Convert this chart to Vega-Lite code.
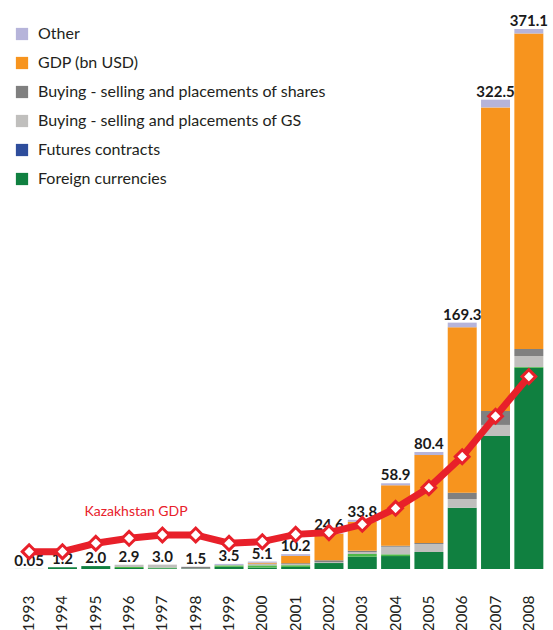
{
  "$schema": "https://vega.github.io/schema/vega-lite/v6.json",
  "autosize": {"type": "none"},
  "width": 532,
  "height": 553,
  "padding": {"left": 13, "top": 16, "right": 8, "bottom": 61},
  "config": {"view": {"stroke": null}, "font": "Lato"},
  "datasets": {
    "parts": [
      {"year": "1993", "category": "Foreign currencies", "value": 0.05},
      {"year": "1994", "category": "Foreign currencies", "value": 1.2},
      {"year": "1995", "category": "Foreign currencies", "value": 2.0},
      {"year": "1996", "category": "Foreign currencies", "value": 0.7},
      {"year": "1996", "category": "Swaps", "value": 0.6},
      {"year": "1996", "category": "Buying - selling and placements of GS", "value": 1.6},
      {"year": "1997", "category": "Foreign currencies", "value": 0.5},
      {"year": "1997", "category": "Swaps", "value": 0.5},
      {"year": "1997", "category": "Buying - selling and placements of GS", "value": 2.0},
      {"year": "1998", "category": "Foreign currencies", "value": 0.3},
      {"year": "1998", "category": "Buying - selling and placements of shares", "value": 1.2},
      {"year": "1999", "category": "Foreign currencies", "value": 1.5},
      {"year": "1999", "category": "Swaps", "value": 1.0},
      {"year": "1999", "category": "Buying - selling and placements of GS", "value": 0.3},
      {"year": "1999", "category": "Other", "value": 0.7},
      {"year": "2000", "category": "Foreign currencies", "value": 1.0},
      {"year": "2000", "category": "Swaps", "value": 1.5},
      {"year": "2000", "category": "Buying - selling and placements of GS", "value": 0.8},
      {"year": "2000", "category": "Buying - selling and placements of shares", "value": 0.4},
      {"year": "2000", "category": "GDP (bn USD)", "value": 0.6},
      {"year": "2000", "category": "Other", "value": 0.8},
      {"year": "2001", "category": "Foreign currencies", "value": 1.4},
      {"year": "2001", "category": "Swaps", "value": 1.2},
      {"year": "2001", "category": "Buying - selling and placements of GS", "value": 0.8},
      {"year": "2001", "category": "Buying - selling and placements of shares", "value": 0.6},
      {"year": "2001", "category": "GDP (bn USD)", "value": 5.0},
      {"year": "2001", "category": "Other", "value": 1.2},
      {"year": "2002", "category": "Foreign currencies", "value": 4.1},
      {"year": "2002", "category": "Buying - selling and placements of GS", "value": 0.6},
      {"year": "2002", "category": "Buying - selling and placements of shares", "value": 1.3},
      {"year": "2002", "category": "GDP (bn USD)", "value": 18.3},
      {"year": "2002", "category": "Other", "value": 0.3},
      {"year": "2003", "category": "Foreign currencies", "value": 8.5},
      {"year": "2003", "category": "Swaps", "value": 1.8},
      {"year": "2003", "category": "Buying - selling and placements of GS", "value": 1.4},
      {"year": "2003", "category": "Buying - selling and placements of shares", "value": 0.9},
      {"year": "2003", "category": "GDP (bn USD)", "value": 19.8},
      {"year": "2003", "category": "Other", "value": 1.4},
      {"year": "2004", "category": "Foreign currencies", "value": 8.9},
      {"year": "2004", "category": "Swaps", "value": 1.2},
      {"year": "2004", "category": "Buying - selling and placements of GS", "value": 5.2},
      {"year": "2004", "category": "Buying - selling and placements of shares", "value": 0.7},
      {"year": "2004", "category": "GDP (bn USD)", "value": 41.5},
      {"year": "2004", "category": "Other", "value": 1.4},
      {"year": "2005", "category": "Foreign currencies", "value": 11.7},
      {"year": "2005", "category": "Buying - selling and placements of GS", "value": 5.5},
      {"year": "2005", "category": "Buying - selling and placements of shares", "value": 0.7},
      {"year": "2005", "category": "GDP (bn USD)", "value": 60.4},
      {"year": "2005", "category": "Other", "value": 2.1},
      {"year": "2006", "category": "Foreign currencies", "value": 42.1},
      {"year": "2006", "category": "Buying - selling and placements of GS", "value": 6.0},
      {"year": "2006", "category": "Buying - selling and placements of shares", "value": 4.3},
      {"year": "2006", "category": "GDP (bn USD)", "value": 113.7},
      {"year": "2006", "category": "Other", "value": 3.2},
      {"year": "2007", "category": "Foreign currencies", "value": 91.4},
      {"year": "2007", "category": "Buying - selling and placements of GS", "value": 7.6},
      {"year": "2007", "category": "Buying - selling and placements of shares", "value": 9.6},
      {"year": "2007", "category": "GDP (bn USD)", "value": 208.6},
      {"year": "2007", "category": "Other", "value": 5.3},
      {"year": "2008", "category": "Foreign currencies", "value": 138.3},
      {"year": "2008", "category": "Swaps", "value": 0.5},
      {"year": "2008", "category": "Buying - selling and placements of GS", "value": 7.6},
      {"year": "2008", "category": "Buying - selling and placements of shares", "value": 4.8},
      {"year": "2008", "category": "GDP (bn USD)", "value": 216.7},
      {"year": "2008", "category": "Other", "value": 3.2}
    ],
    "totals": [
      {"year": "1993", "total": 0.05, "label": "0.05"},
      {"year": "1994", "total": 1.2, "label": "1.2"},
      {"year": "1995", "total": 2.0, "label": "2.0"},
      {"year": "1996", "total": 2.9, "label": "2.9"},
      {"year": "1997", "total": 3.0, "label": "3.0"},
      {"year": "1998", "total": 1.5, "label": "1.5"},
      {"year": "1999", "total": 3.5, "label": "3.5"},
      {"year": "2000", "total": 5.1, "label": "5.1"},
      {"year": "2001", "total": 10.2, "label": "10.2"},
      {"year": "2002", "total": 24.6, "label": "24.6"},
      {"year": "2003", "total": 33.8, "label": "33.8"},
      {"year": "2004", "total": 58.9, "label": "58.9"},
      {"year": "2005", "total": 80.4, "label": "80.4"},
      {"year": "2006", "total": 169.3, "label": "169.3"},
      {"year": "2007", "total": 322.5, "label": "322.5"},
      {"year": "2008", "total": 371.1, "label": "371.1"}
    ],
    "gdp": [
      {"year": "1993", "gdp": 11.9},
      {"year": "1994", "gdp": 11.9},
      {"year": "1995", "gdp": 17.7},
      {"year": "1996", "gdp": 21.1},
      {"year": "1997", "gdp": 23.4},
      {"year": "1998", "gdp": 23.4},
      {"year": "1999", "gdp": 17.7},
      {"year": "2000", "gdp": 18.8},
      {"year": "2001", "gdp": 23.8},
      {"year": "2002", "gdp": 25.0},
      {"year": "2003", "gdp": 30.7},
      {"year": "2004", "gdp": 41.7},
      {"year": "2005", "gdp": 55.9},
      {"year": "2006", "gdp": 77.2},
      {"year": "2007", "gdp": 105.0},
      {"year": "2008", "gdp": 132.2}
    ],
    "note": [
      {"year": "1996", "gdp": 39.5, "label": "Kazakhstan GDP"}
    ]
  },
  "encoding": {
    "x": {
      "field": "year", "type": "ordinal",
      "scale": {"paddingInner": 0.13, "paddingOuter": 0.05},
      "axis": {"title": null, "domain": false, "ticks": false, "labelAngle": -90, "labelAlign": "right", "labelBaseline": "middle", "labelFontSize": 15.5, "labelColor": "#231f20", "labelPadding": 26, "labelFont": "Lato"}
    }
  },
  "layer": [
    {
      "data": {"name": "parts"},
      "transform": [
        {"calculate": "indexof(['Foreign currencies','Swaps','Futures contracts','Buying - selling and placements of GS','Buying - selling and placements of shares','GDP (bn USD)','Other'], datum.category)", "as": "rank"}
      ],
      "mark": {"type": "bar"},
      "encoding": {
        "y": {"field": "value", "type": "quantitative", "stack": "zero", "scale": {"domain": [0, 380], "nice": false}, "axis": null},
        "order": {"field": "rank", "type": "quantitative", "sort": "ascending"},
        "color": {
          "field": "category", "type": "nominal",
          "scale": {
            "domain": ["Other", "GDP (bn USD)", "Buying - selling and placements of shares", "Buying - selling and placements of GS", "Futures contracts", "Foreign currencies", "Swaps"],
            "range": ["#b6b4da", "#f7941e", "#808080", "#c0bfbd", "#2e4d9c", "#108040", "#4db848"]
          },
          "legend": {
            "values": ["Other", "GDP (bn USD)", "Buying - selling and placements of shares", "Buying - selling and placements of GS", "Futures contracts", "Foreign currencies"],
            "orient": "none", "legendX": 1, "legendY": 10, "title": null,
            "symbolType": "square", "symbolSize": 150, "symbolStrokeWidth": 0,
            "labelFontSize": 16, "labelFont": "Lato", "labelColor": "#231f20",
            "rowPadding": 13, "labelOffset": 8, "labelLimit": 400
          }
        }
      }
    },
    {
      "data": {"name": "totals"},
      "mark": {"type": "text", "baseline": "alphabetic", "dy": -3, "fontSize": 15, "fontWeight": "bold", "font": "Lato", "color": "#1a1a1a"},
      "encoding": {
        "y": {"field": "total", "type": "quantitative"},
        "text": {"field": "label"}
      }
    },
    {
      "data": {"name": "gdp"},
      "mark": {"type": "line", "color": "#e8202a", "strokeWidth": 7},
      "encoding": {"y": {"field": "gdp", "type": "quantitative"}}
    },
    {
      "data": {"name": "gdp"},
      "mark": {"type": "point", "shape": "diamond", "filled": true, "fill": "#ffffff", "stroke": "#e8202a", "strokeWidth": 3, "size": 190, "opacity": 1},
      "encoding": {"y": {"field": "gdp", "type": "quantitative"}}
    },
    {
      "data": {"name": "note"},
      "mark": {"type": "text", "color": "#e8202a", "fontSize": 14, "font": "Lato", "dx": 7},
      "encoding": {
        "y": {"field": "gdp", "type": "quantitative"},
        "text": {"field": "label"}
      }
    }
  ]
}
